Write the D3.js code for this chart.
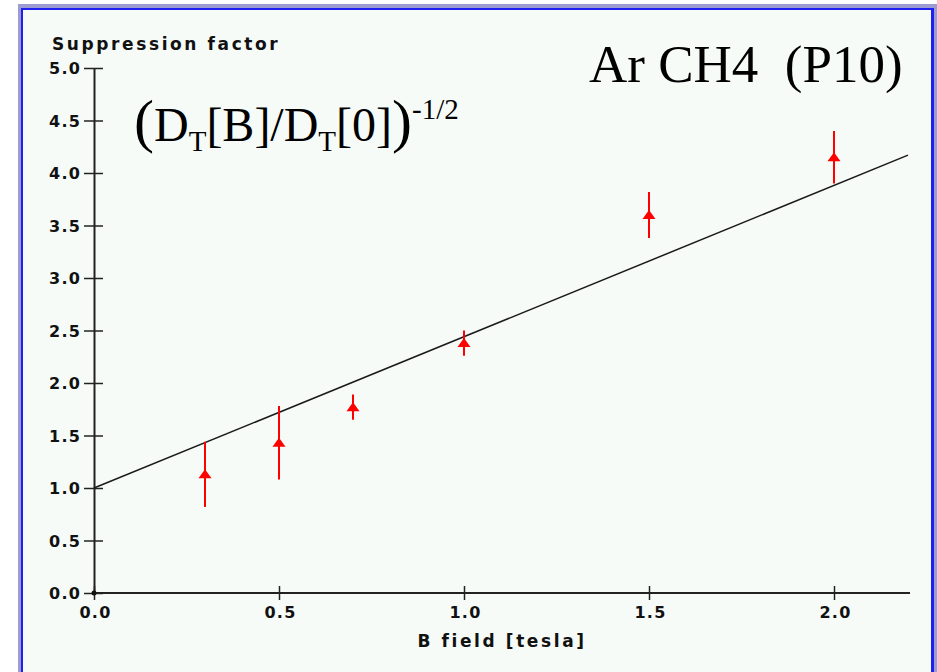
<!DOCTYPE html>
<html>
<head>
<meta charset="utf-8">
<script src="https://cdn.jsdelivr.net/npm/d3@7"></script>
<style>
	body { margin: 0; background: #fff; }
	svg text { font-family: "DejaVu Sans", sans-serif; }
	.tick text { font-weight: bold; font-size: 16px; letter-spacing: 1.2px; fill: #111; }
	.label { font-weight: bold; font-size: 17px; letter-spacing: 2.6px; fill: #111; }
	.serif { font-family: "Liberation Serif", "Times New Roman", serif; fill: #000; white-space: pre; }
</style>
</head>
<body>
<svg id="chart" width="937" height="672"></svg>
<script>
// measured points (B field in tesla, suppression factor and its error)
const bField = [0.3, 0.5, 0.7, 1.0, 1.5, 2.0];
const suppression = [1.13, 1.43, 1.77, 2.38, 3.60, 4.15];
const suppressionErr = [0.31, 0.35, 0.12, 0.12, 0.22, 0.25];

// straight fit line
const fitX = [0, 2.2];
const fitY = [1.0, 4.17];

const xTicks = [0, 0.5, 1.0, 1.5, 2.0];
const yTicks = [0, 0.5, 1.0, 1.5, 2.0, 2.5, 3.0, 3.5, 4.0, 4.5, 5.0];

const svg = d3.select("#chart");

// Frame

svg.append("rect")
	.attr("x", 18).attr("y", 4)
	.attr("width", 919).attr("height", 668)
	.attr("fill", "#9c9cd2");

svg.append("rect")
	.attr("x", 21).attr("y", 8)
	.attr("width", 913).attr("height", 664)
	.attr("fill", "#1f1ff0");

svg.append("rect")
	.attr("x", 23).attr("y", 10)
	.attr("width", 908).attr("height", 662)
	.attr("fill", "#f6fbf8");

// Scales

const x = d3.scaleLinear()
	.domain([0, 2.2])
	.range([94, 908]);

const y = d3.scaleLinear()
	.domain([0, 5])
	.range([593, 68]);

// Axes

const xAxis = svg.append("g")
	.attr("transform", `translate(0,${y(0)})`)
	.call(d3.axisBottom(x)
		.tickValues(xTicks)
		.tickFormat(d3.format(".1f"))
		.tickSizeOuter(0));

xAxis.select(".domain")
	.attr("d", `M${x(0)},0H910`)
	.attr("stroke", "#222")
	.attr("stroke-width", 2);

xAxis.selectAll(".tick line")
	.attr("y1", -7).attr("y2", 7)
	.attr("stroke", "#222")
	.attr("stroke-width", 1.5);

xAxis.selectAll(".tick text")
	.attr("y", 25).attr("dy", 0)
	.attr("dx", 1);

const yAxis = svg.append("g")
	.attr("transform", `translate(${x(0)},0)`)
	.call(d3.axisLeft(y)
		.tickValues(yTicks)
		.tickFormat(d3.format(".1f"))
		.tickSizeOuter(0));

yAxis.select(".domain")
	.attr("stroke", "#222")
	.attr("stroke-width", 2);

yAxis.selectAll(".tick line")
	.attr("x1", -10).attr("x2", 9)
	.attr("stroke", "#222")
	.attr("stroke-width", 1.5);

yAxis.selectAll(".tick text")
	.attr("x", -13)
	.attr("dy", "0.36em");

svg.append("circle")
	.attr("cx", x(0)).attr("cy", y(0))
	.attr("r", 2.5)
	.attr("fill", "#111");

// Axis labels

svg.append("text")
	.attr("class", "label")
	.attr("x", 52).attr("y", 50)
	.text("Suppression factor");

svg.append("text")
	.attr("class", "label")
	.attr("x", 502).attr("y", 647)
	.attr("text-anchor", "middle")
	.text("B field [tesla]");

// Fit line

svg.append("path")
	.datum(d3.zip(fitX, fitY))
	.attr("d", d3.line().x((d) => x(d[0])).y((d) => y(d[1])))
	.attr("fill", "none")
	.attr("stroke", "#1a1a1a")
	.attr("stroke-width", 1.5);

// Data points with error bars

const points = svg.append("g")
	.selectAll("g")
	.data(d3.range(bField.length))
	.enter()
	.append("g");

points.append("line")
	.attr("x1", (i) => x(bField[i]))
	.attr("x2", (i) => x(bField[i]))
	.attr("y1", (i) => y(suppression[i] + suppressionErr[i]))
	.attr("y2", (i) => y(suppression[i] - suppressionErr[i]))
	.attr("stroke", "#ff0000")
	.attr("stroke-width", 2);

points.append("path")
	.attr("transform", (i) => `translate(${x(bField[i])},${y(suppression[i])})`)
	.attr("d", "M0,-5L6.5,4L-6.5,4Z")
	.attr("fill", "#ff0000");

// Annotations

svg.append("text")
	.attr("class", "serif")
	.attr("x", 589).attr("y", 82)
	.attr("font-size", 53)
	.text("Ar CH4  (P10)");

const formula = svg.append("text")
	.attr("class", "serif")
	.attr("x", 134).attr("y", 141)
	.attr("font-size", 48);

formula.append("tspan").attr("font-size", 60).text("(");
formula.append("tspan").text("D");
formula.append("tspan").attr("font-size", 29).attr("dy", 10).text("T");
formula.append("tspan").attr("dy", -10).text("[B]/D");
formula.append("tspan").attr("font-size", 29).attr("dy", 10).text("T");
formula.append("tspan").attr("dy", -10).text("[0]");
formula.append("tspan").attr("font-size", 60).text(")");
formula.append("tspan").attr("font-size", 29).attr("dy", -22).text("-1/2");
</script>
</body>
</html>
